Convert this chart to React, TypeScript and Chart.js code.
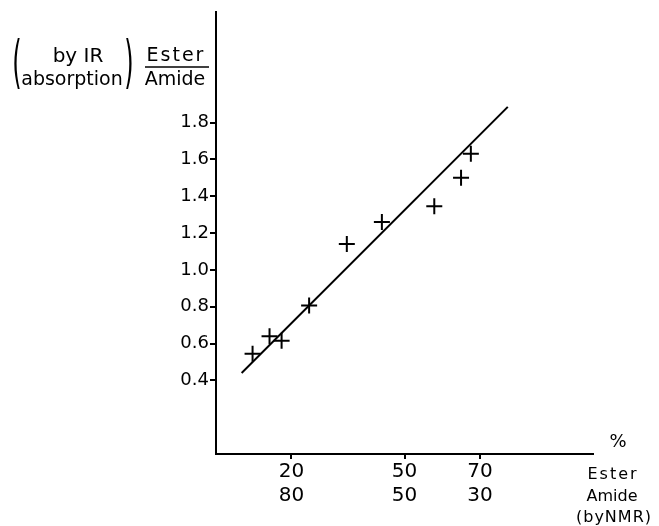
import React, { useEffect, useRef } from "react";
import { Chart, registerables } from "chart.js";

Chart.register(...registerables);

// Measured points: % ester by NMR vs Ester/Amide ratio by IR absorption
const esterPct = [9.7, 14.2, 17.4, 24.7, 34.7, 44.0, 57.9, 65.0, 67.6];
const irRatio = [0.545, 0.64, 0.615, 0.806, 1.14, 1.26, 1.345, 1.5, 1.63];

// Fitted straight line endpoints
const fitX = [6.8, 77.4];
const fitY = [0.44, 1.885];

// Tick labels
const xTickEster = [20, 50, 70];
const xTickAmide = [80, 50, 30];
const yTicks = [0.4, 0.6, 0.8, 1.0, 1.2, 1.4, 1.6, 1.8];

const FONT = '"DejaVu Sans", sans-serif';

const textPlugin = {
  id: "annotText",
  afterDraw(chart: any) {
    const ctx = chart.ctx as CanvasRenderingContext2D;
    ctx.save();
    ctx.fillStyle = "#000";
    ctx.strokeStyle = "#000";
    ctx.textAlign = "center";
    ctx.textBaseline = "middle";

    ctx.font = `20px ${FONT}`;
    (ctx as any).letterSpacing = "0px";
    ctx.fillText("by IR", 78, 57);
    ctx.font = `19px ${FONT}`;
    ctx.fillText("absorption", 72, 80);

    // tall parentheses
    const paren = (ch: string, x: number) => {
      ctx.save();
      ctx.translate(x, 66);
      ctx.scale(1, 2.4);
      ctx.font = `24px ${FONT}`;
      ctx.fillText(ch, 0, 0);
      ctx.restore();
    };
    paren("(", 17);
    paren(")", 129);

    ctx.font = `19px ${FONT}`;
    (ctx as any).letterSpacing = "2px";
    ctx.fillText("Ester", 176, 56);
    (ctx as any).letterSpacing = "0px";
    ctx.fillText("Amide", 175, 80);
    ctx.lineWidth = 1.5;
    ctx.beginPath();
    ctx.moveTo(145, 67);
    ctx.lineTo(209, 67);
    ctx.stroke();

    ctx.font = `18px ${FONT}`;
    ctx.fillText("%", 618, 442);
    ctx.font = `16px ${FONT}`;
    (ctx as any).letterSpacing = "2px";
    ctx.fillText("Ester", 613, 475);
    (ctx as any).letterSpacing = "0px";
    ctx.fillText("Amide", 612, 497);
    (ctx as any).letterSpacing = "1px";
    ctx.fillText("(byNMR)", 614, 518);
    ctx.restore();
  },
};

export default function App() {
  const ref = useRef<HTMLCanvasElement>(null);

  useEffect(() => {
    document.body.style.margin = "0";
    const canvas = ref.current!;
    const chart = new Chart(canvas, {
      type: "scatter",
      data: {
        datasets: [
          {
            data: esterPct.map((x, i) => ({ x, y: irRatio[i] })),
            pointStyle: "cross",
            pointRadius: 8,
            borderColor: "#000",
            backgroundColor: "#000",
            borderWidth: 2,
            showLine: false,
          },
          {
            type: "line",
            data: fitX.map((x, i) => ({ x, y: fitY[i] })),
            borderColor: "#000",
            borderWidth: 2,
            pointRadius: 0,
            fill: false,
          } as any,
        ],
      },
      options: {
        animation: false,
        responsive: false,
        devicePixelRatio: 1,
        layout: { padding: { left: 0, top: 12, right: 66, bottom: 0 } },
        plugins: { legend: { display: false }, tooltip: { enabled: false } },
        scales: {
          x: {
            type: "linear",
            min: 0,
            max: 100,
            afterBuildTicks: (scale: any) => {
              scale.ticks = xTickEster.map((v) => ({ value: v }));
            },
            afterFit: (scale: any) => {
              scale.height = 72;
            },
            grid: {
              drawOnChartArea: false,
              drawTicks: true,
              tickLength: 5,
              color: "#000",
              lineWidth: 2,
            },
            border: { display: true, color: "#000", width: 2 },
            ticks: {
              color: "#000",
              font: { family: FONT, size: 20 },
              padding: 1,
              maxRotation: 0,
              autoSkip: false,
              callback: (_v: any, i: number) => [String(xTickEster[i]), String(xTickAmide[i])],
            },
          },
          y: {
            type: "linear",
            min: 0,
            max: 2.4,
            afterBuildTicks: (scale: any) => {
              scale.ticks = yTicks.map((v) => ({ value: v }));
            },
            afterFit: (scale: any) => {
              scale.width = 216;
            },
            grid: {
              drawOnChartArea: false,
              drawTicks: true,
              tickLength: 6,
              color: "#000",
              lineWidth: 2,
            },
            border: { display: true, color: "#000", width: 2 },
            ticks: {
              color: "#000",
              font: { family: FONT, size: 18 },
              padding: 1,
              autoSkip: false,
              callback: (v: any) => Number(v).toFixed(1),
            },
          },
        },
      },
      plugins: [textPlugin],
    });
    return () => chart.destroy();
  }, []);

  return (
    <div style={{ width: 659, height: 526, background: "#fff" }}>
      <canvas ref={ref} width={659} height={526} />
    </div>
  );
}
